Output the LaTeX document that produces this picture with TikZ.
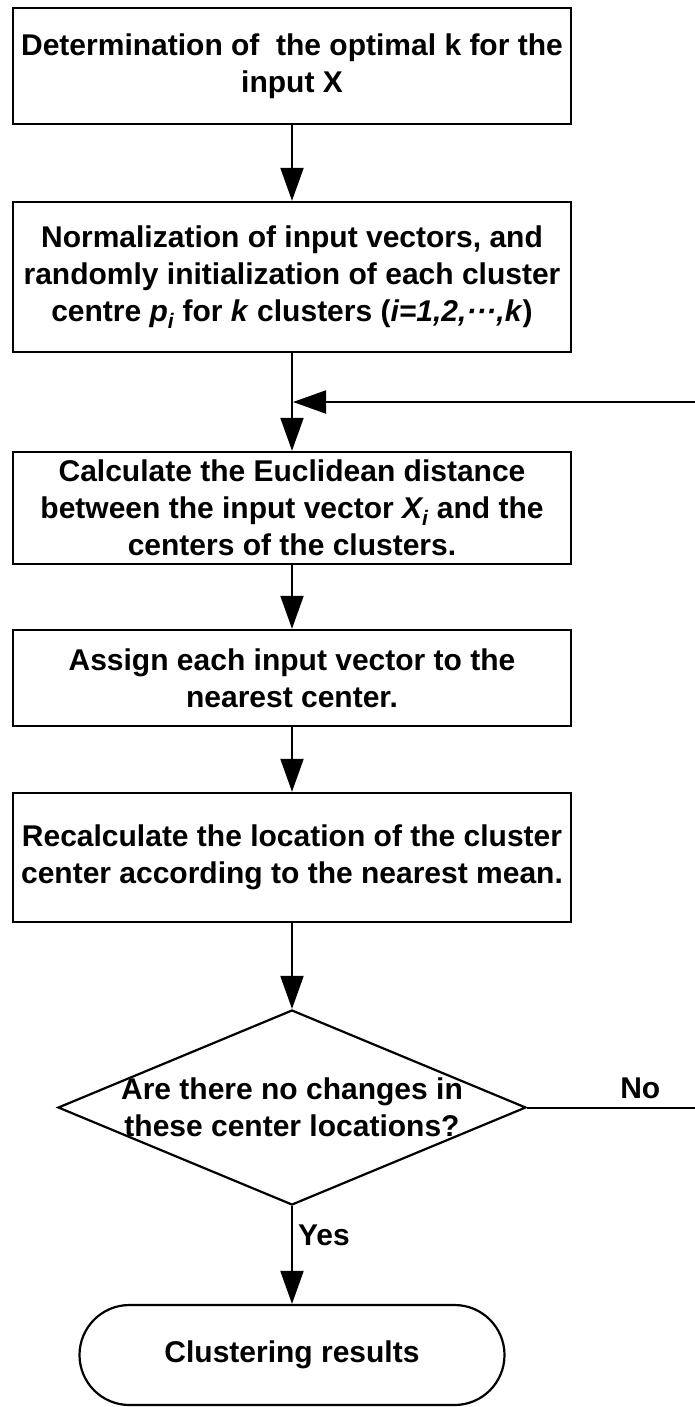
\documentclass[tikz,border=0pt]{standalone}
\usepackage{fontspec}
\setmainfont{Liberation Sans}
\usetikzlibrary{arrows.meta,shapes.geometric,shapes.misc}

\tikzset{
  flowtext/.style={font=\fontsize{30}{37}\selectfont\bfseries, align=center, text=black},
  procbox/.style={draw=black, line width=2.4pt, rectangle, minimum width=558pt,
                  inner sep=0pt, flowtext},
  decision/.style={draw=black, line width=2.2pt, diamond, minimum width=468pt,
                   minimum height=195pt, inner sep=0pt},
  terminal/.style={draw=black, line width=2.2pt, rounded rectangle, minimum width=425pt,
                   minimum height=100pt, inner sep=0pt, flowtext},
  conn/.style={draw=black, line width=2pt},
  arrowconn/.style={conn, -{Triangle[length=33pt,width=23pt]}},
  edgelabel/.style={font=\fontsize{30}{36}\selectfont\bfseries, text=black, inner sep=0pt}
}

\begin{document}
\begin{tikzpicture}[x=1pt,y=-1pt]
  \useasboundingbox (0,0) rectangle (695,1407);

  % process steps
  \node[procbox, minimum height=116pt] (init) at (292,66)
    {Determination of\ \ the optimal k for the\\input X};
  \node[procbox, minimum height=150pt] (norm) at (292,277)
    {Normalization of input vectors, and\\randomly initialization of each cluster\\centre \textit{p\textsubscript{i}} for \textit{k} clusters (\textit{i=1,2,\textperiodcentered\textperiodcentered\textperiodcentered,k})};
  \node[procbox, minimum height=112pt] (dist) at (292,508)
    {Calculate the Euclidean distance\\between the input vector \textit{X\textsubscript{i}} and the\\centers of the clusters.};
  \node[procbox, minimum height=96pt] (assign) at (292,678)
    {Assign each input vector to the\\nearest center.};
  \node[procbox, minimum height=129pt] (recalc) at (292,857.5)
    {Recalculate the location of the cluster\\center according to the nearest mean.};

  % decision
  \node[decision] (check) at (292,1107.5) {};
  \node[flowtext, inner sep=0pt] (checktext) at (check.center)
    {Are there no changes in\\these center locations?};

  % end
  \node[terminal] (result) at (292,1355) {Clustering results};

  % loop-back junction
  \coordinate (merge) at (292,402);
  \coordinate (loopcorner) at (696,402);
  \coordinate (nocorner) at (696,1107.5);

  % main flow
  \draw[arrowconn] (init) -- (norm);
  \draw[arrowconn] (norm) -- (dist);
  \draw[arrowconn] (dist) -- (assign);
  \draw[arrowconn] (assign) -- (recalc);
  \draw[arrowconn] (recalc) -- (check);
  \draw[arrowconn] (check.south) -- node[edgelabel, right=5pt, pos=0.3] (yes) {Yes} (result.north);

  % feedback when centres still move
  \draw[conn] (check.east) -- node[edgelabel, above=8pt, pos=0.67] (no) {No} (nocorner) -- (loopcorner);
  \draw[arrowconn] (loopcorner) -- ([xshift=1pt]merge);
\end{tikzpicture}
\end{document}
